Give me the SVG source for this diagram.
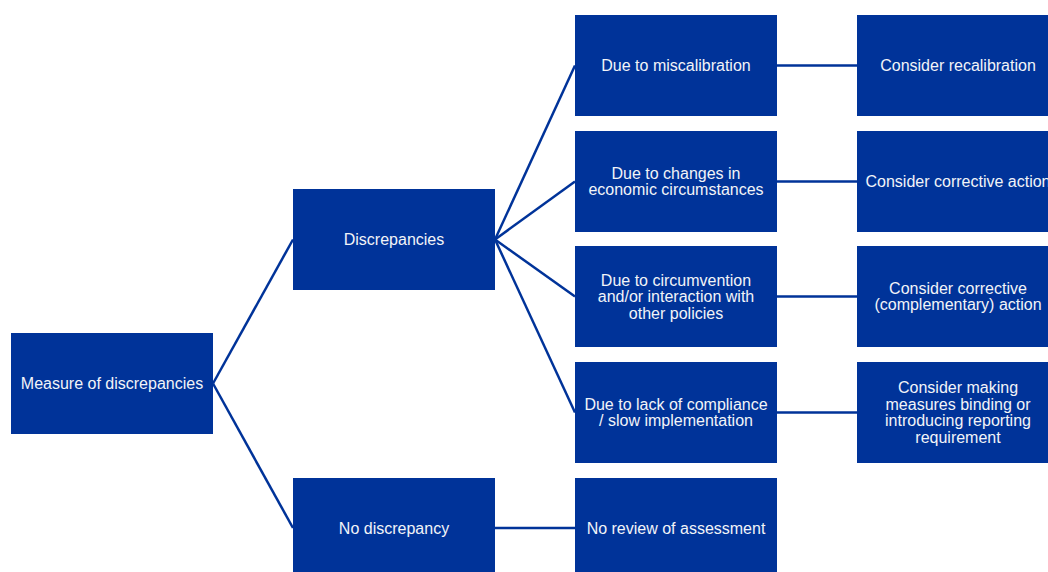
<svg xmlns="http://www.w3.org/2000/svg" width="1048" height="572" viewBox="0 0 1048 572">
  <style>
    .box { fill: #003399; }
    .lbl { font-family: "Liberation Sans", Arial, sans-serif; font-size: 16px; fill: #f2f4f8; text-anchor: middle; dominant-baseline: central; }
    .link { stroke: #003399; stroke-width: 2.5; fill: none; }
  </style>
  <rect width="1048" height="572" fill="#ffffff"/>

  <!-- connectors -->
  <g id="connectors">
    <line class="link" x1="213" y1="383.5" x2="293" y2="239.5"/>
    <line class="link" x1="213" y1="383.5" x2="293" y2="528"/>
    <line class="link" x1="495" y1="239.5" x2="575" y2="65.5"/>
    <line class="link" x1="495" y1="239.5" x2="575" y2="181.5"/>
    <line class="link" x1="495" y1="239.5" x2="575" y2="296.5"/>
    <line class="link" x1="495" y1="239.5" x2="575" y2="412.5"/>
    <line class="link" x1="777" y1="65.5" x2="857" y2="65.5"/>
    <line class="link" x1="777" y1="181.5" x2="857" y2="181.5"/>
    <line class="link" x1="777" y1="296.5" x2="857" y2="296.5"/>
    <line class="link" x1="777" y1="412.5" x2="857" y2="412.5"/>
    <line class="link" x1="495" y1="528" x2="575" y2="528"/>
  </g>

  <!-- root -->
  <g id="measure">
    <rect class="box" x="11" y="333" width="202" height="101"/>
    <text class="lbl" x="112" y="383.5">Measure of discrepancies</text>
  </g>

  <!-- second level -->
  <g id="discrepancies">
    <rect class="box" x="293" y="189" width="202" height="101"/>
    <text class="lbl" x="394" y="239.5">Discrepancies</text>
  </g>
  <g id="no-discrepancy">
    <rect class="box" x="293" y="478" width="202" height="101"/>
    <text class="lbl" x="394" y="528">No discrepancy</text>
  </g>

  <!-- causes -->
  <g id="miscalibration">
    <rect class="box" x="575" y="15" width="202" height="101"/>
    <text class="lbl" x="676" y="65.5">Due to miscalibration</text>
  </g>
  <g id="economic-changes">
    <rect class="box" x="575" y="131" width="202" height="101"/>
    <text class="lbl" x="676" y="173.2">Due to changes in</text>
    <text class="lbl" x="676" y="189.8">economic circumstances</text>
  </g>
  <g id="circumvention">
    <rect class="box" x="575" y="246" width="202" height="101"/>
    <text class="lbl" x="676" y="280">Due to circumvention</text>
    <text class="lbl" x="676" y="296.5">and/or interaction with</text>
    <text class="lbl" x="676" y="313">other policies</text>
  </g>
  <g id="lack-of-compliance">
    <rect class="box" x="575" y="362" width="202" height="101"/>
    <text class="lbl" x="676" y="404.2">Due to lack of compliance</text>
    <text class="lbl" x="676" y="420.8">/ slow implementation</text>
  </g>
  <g id="no-review">
    <rect class="box" x="575" y="478" width="202" height="101"/>
    <text class="lbl" x="676" y="528">No review of assessment</text>
  </g>

  <!-- actions -->
  <g id="recalibration">
    <rect class="box" x="857" y="15" width="202" height="101"/>
    <text class="lbl" x="958" y="65.5">Consider recalibration</text>
  </g>
  <g id="corrective-action">
    <rect class="box" x="857" y="131" width="202" height="101"/>
    <text class="lbl" x="958" y="181.5">Consider corrective action</text>
  </g>
  <g id="complementary-action">
    <rect class="box" x="857" y="246" width="202" height="101"/>
    <text class="lbl" x="958" y="288.2">Consider corrective</text>
    <text class="lbl" x="958" y="304.8">(complementary) action</text>
  </g>
  <g id="binding-measures">
    <rect class="box" x="857" y="362" width="202" height="101"/>
    <text class="lbl" x="958" y="387.7">Consider making</text>
    <text class="lbl" x="958" y="404.2">measures binding or</text>
    <text class="lbl" x="958" y="420.8">introducing reporting</text>
    <text class="lbl" x="958" y="437.3">requirement</text>
  </g>
</svg>
